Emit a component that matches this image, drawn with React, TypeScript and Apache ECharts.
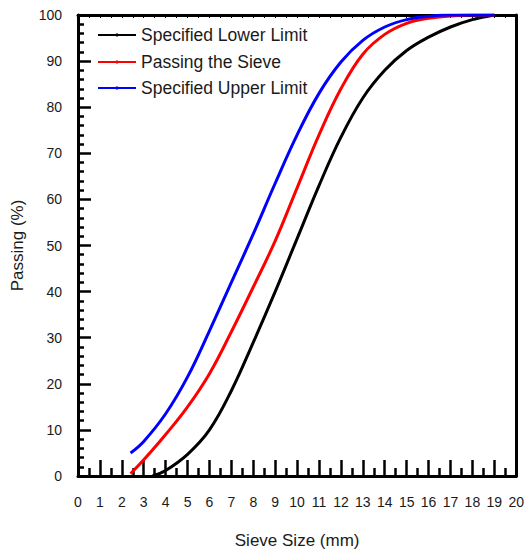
import React, { useEffect, useRef } from "react";
import * as echarts from "echarts";

const seriesNames = ["Specified Lower Limit", "Passing the Sieve", "Specified Upper Limit"];

const lowerX = [3.4, 4, 5, 6, 7, 8, 9, 10, 11, 12, 13, 14, 15, 16, 17, 18, 19];
const lowerY = [0, 1.2, 4.7, 10, 18.5, 29, 40, 51.5, 63, 73.5, 82, 88, 92.3, 95.2, 97.4, 99, 100];

const passX = [2.4, 3, 4, 5, 6, 7, 8, 9, 10, 11, 12, 13, 14, 15, 16, 17, 18, 19];
const passY = [0.5, 3.5, 9, 15, 22.2, 31.3, 41, 51, 62.5, 74, 84, 91.5, 95.8, 98.2, 99.3, 99.8, 100, 100];

const upperX = [2.4, 3, 4, 5, 6, 7, 8, 9, 10, 11, 12, 13, 14, 15, 16, 17, 18, 19];
const upperY = [5, 7.5, 13.5, 21.5, 31.5, 42, 52.5, 63.5, 74, 83, 89.8, 94.5, 97.4, 99, 99.7, 100, 100, 100];

const colors = ["#000000", "#ff0000", "#0000ff"];
const legendTops = [26, 53, 79];

const FONT = "'Liberation Sans', Arial, sans-serif";

function zip(xs: number[], ys: number[]) {
  return xs.map((x, i) => [x, ys[i]]);
}

export default function App() {
  const ref = useRef<HTMLDivElement>(null);
  useEffect(() => {
    if (!ref.current) return;
    document.body.style.margin = "0";
    const chart = echarts.init(ref.current, undefined, { renderer: "svg" });
    const lineSeries = [
      zip(lowerX, lowerY),
      zip(passX, passY),
      zip(upperX, upperY),
    ].map((d, i) => ({
      name: seriesNames[i],
      type: "line",
      data: d,
      smooth: 0.4,
      symbol: "circle",
      symbolSize: 3,
      showSymbol: false,
      lineStyle: { color: colors[i], width: 3 },
      itemStyle: { color: colors[i] },
      xAxisIndex: 0,
      yAxisIndex: 0,
    }));
    const legends = seriesNames.map((n, i) => ({
      data: [n],
      orient: "vertical",
      left: 97,
      top: legendTops[i],
      itemWidth: 38,
      itemHeight: 4,
      padding: 0,
      textStyle: { fontSize: 17.5, color: "#1a1a1a", fontFamily: FONT },
    }));
    chart.setOption({
      animation: false,
      textStyle: { fontFamily: FONT },
      grid: { left: 78, right: 9, top: 15, bottom: 77 },
      legend: legends,
      xAxis: [
        {
          type: "value",
          position: "bottom",
          min: 0,
          max: 20,
          interval: 1,
          name: "Sieve Size (mm)",
          nameLocation: "middle",
          nameGap: 56,
          nameTextStyle: { fontSize: 17, color: "#1a1a1a" },
          axisLine: { show: true, onZero: false, lineStyle: { color: "#000", width: 3 } },
          axisTick: { show: true, inside: true, length: 16, lineStyle: { color: "#000", width: 2.5 } },
          minorTick: { show: true, splitNumber: 2, length: 8, lineStyle: { color: "#000", width: 2.5 } },
          axisLabel: { fontSize: 14, color: "#1a1a1a", margin: 19 },
          splitLine: { show: false },
        },
        {
          type: "value",
          position: "top",
          min: 0,
          max: 20,
          interval: 0.5,
          axisLine: { show: true, onZero: false, lineStyle: { color: "#000", width: 3 } },
          axisTick: { show: true, inside: true, length: 3, lineStyle: { color: "#000", width: 1 } },
          axisLabel: { show: false },
          splitLine: { show: false },
        },
      ],
      yAxis: [
        {
          type: "value",
          position: "left",
          min: 0,
          max: 100,
          interval: 10,
          name: "Passing (%)",
          nameLocation: "middle",
          nameGap: 52,
          nameTextStyle: { fontSize: 17, color: "#1a1a1a" },
          axisLine: { show: true, onZero: false, lineStyle: { color: "#000", width: 3 } },
          axisTick: { show: true, inside: true, length: 13, lineStyle: { color: "#000", width: 2.5 } },
          minorTick: { show: true, splitNumber: 5, length: 6, lineStyle: { color: "#000", width: 2.5 } },
          axisLabel: { fontSize: 14, color: "#1a1a1a", margin: 16 },
          splitLine: { show: false },
        },
        {
          type: "value",
          position: "right",
          min: 0,
          max: 100,
          interval: 10,
          axisLine: { show: true, onZero: false, lineStyle: { color: "#000", width: 3 } },
          axisTick: { show: false },
          axisLabel: { show: false },
          splitLine: { show: false },
        },
      ],
      series: lineSeries,
    });
    return () => chart.dispose();
  }, []);
  return <div ref={ref} style={{ width: 527, height: 554 }} />;
}
